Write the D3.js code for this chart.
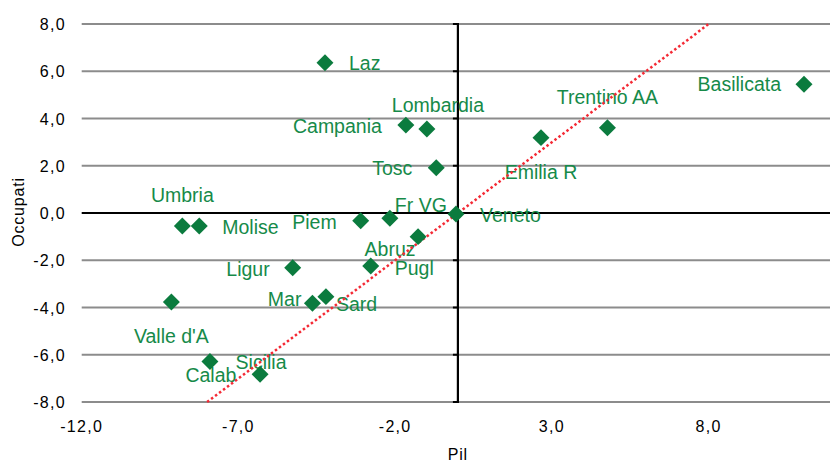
<!DOCTYPE html>
<html>
<head>
<meta charset="utf-8">
<script src="https://cdn.jsdelivr.net/npm/d3@7"></script>
<style>
  body { margin: 0; background: #fff; }
  svg { display: block; }
</style>
</head>
<body>
<script>
// regioni, Pil (x) e Occupati (y)
const regioni = ["Laz", "Lombardia", "Campania", "Tosc", "Emilia R", "Trentino AA", "Basilicata",
  "Fr VG", "Piem", "Veneto", "Umbria", "Molise", "Abruz", "Pugl", "Ligur", "Mar", "Sard",
  "Valle d'A", "Calab", "Sicilia"];
const pil = [-4.24, -0.99, -1.66, -0.69, 2.65, 4.77, 11.04,
  -2.17, -3.10, -0.06, -8.79, -8.25, -1.27, -2.78, -5.27, -4.64, -4.21,
  -9.14, -7.91, -6.31];
const occupati = [6.36, 3.56, 3.72, 1.92, 3.19, 3.61, 5.45,
  -0.22, -0.33, -0.04, -0.55, -0.55, -1.00, -2.24, -2.32, -3.82, -3.54,
  -3.77, -6.29, -6.83];
const xTicks = [-12, -7, -2, 3, 8];
const yTicks = [-8, -6, -4, -2, 0, 2, 4, 6, 8];
const trendSlope = 1.0, trendIntercept = 0.0;

// posizione etichette (anchor, dx, dy)
const labelPos = {
  "Laz": ["start", 24, 0], "Lombardia": ["start", -35, -24], "Campania": ["end", -24, 1],
  "Tosc": ["end", -24, 0], "Emilia R": ["middle", 0, 34], "Trentino AA": ["middle", 0, -31],
  "Basilicata": ["end", -23, 0], "Fr VG": ["start", 5, -13], "Piem": ["end", -24, 1],
  "Veneto": ["start", 24, 1], "Umbria": ["middle", 0, -31], "Molise": ["start", 23, 1],
  "Abruz": ["middle", -28, 12], "Pugl": ["start", 24, 2], "Ligur": ["end", -23, 1],
  "Mar": ["end", -11, -4], "Sard": ["start", 10, 7], "Valle d'A": ["middle", 0, 34],
  "Calab": ["middle", 1, 13], "Sicilia": ["middle", 1, -12]
};

const W = 830, H = 462;
const green = "#0b7b3e", greenText = "#168a49";

const svg = d3.select("body").append("svg")
  .attr("width", W)
  .attr("height", H);

const x = d3.scaleLinear().domain([-12, 13]).range([81.7, 81.7 + 25 * 31.35]);
const y = d3.scaleLinear().domain([-8, 8]).range([402, 24]);

const fmt = v => d3.format(".1f")(v).replace(".", ",").replace("\u2212", "-");

// griglia orizzontale
svg.append("g").selectAll("line")
  .data(yTicks.filter(d => d !== 0))
  .enter().append("line")
    .attr("x1", x(-12)).attr("x2", W)
    .attr("y1", d => y(d)).attr("y2", d => y(d))
    .attr("stroke", "#8c8c8c")
    .attr("stroke-width", 2);

// asse orizzontale a y=0
svg.append("line")
  .attr("x1", x(-12)).attr("x2", W)
  .attr("y1", y(0)).attr("y2", y(0))
  .attr("stroke", "#000")
  .attr("stroke-width", 2.2);

// asse verticale a x=0 con tacche
svg.append("line")
  .attr("x1", x(0)).attr("x2", x(0))
  .attr("y1", y(8) - 1).attr("y2", y(-8) + 1)
  .attr("stroke", "#000")
  .attr("stroke-width", 2.2);
svg.append("g").selectAll("line")
  .data(yTicks)
  .enter().append("line")
    .attr("x1", x(0) - 5).attr("x2", x(0))
    .attr("y1", d => y(d)).attr("y2", d => y(d))
    .attr("stroke", "#000")
    .attr("stroke-width", 2);

// etichette assi
svg.append("g").selectAll("text")
  .data(yTicks)
  .enter().append("text")
    .attr("x", 66)
    .attr("y", d => y(d) + 6)
    .attr("text-anchor", "end")
    .attr("font-family", "Liberation Sans, Arial, sans-serif")
    .attr("font-size", "16px")
    .attr("letter-spacing", "1.3px")
    .attr("fill", "#000")
    .text(fmt);

svg.append("g").selectAll("text")
  .data(xTicks)
  .enter().append("text")
    .attr("x", d => x(d))
    .attr("y", 432)
    .attr("text-anchor", "middle")
    .attr("font-family", "Liberation Sans, Arial, sans-serif")
    .attr("font-size", "16px")
    .attr("letter-spacing", "1.3px")
    .attr("fill", "#000")
    .text(fmt);

svg.append("text")
  .attr("x", x(0))
  .attr("y", 460)
  .attr("text-anchor", "middle")
  .attr("font-family", "Liberation Sans, Arial, sans-serif")
  .attr("font-size", "16px")
  .attr("letter-spacing", "0.8px")
  .text("Pil");

svg.append("text")
  .attr("text-anchor", "middle")
  .attr("font-family", "Liberation Sans, Arial, sans-serif")
  .attr("font-size", "16px")
  .attr("letter-spacing", "0.8px")
  .attr("transform", "translate(24,212) rotate(-90)")
  .text("Occupati");

const pts = regioni.map((n, i) => ({ name: n, x: pil[i], y: occupati[i] }));

// etichette dei punti
svg.append("g").selectAll("text")
  .data(pts)
  .enter().append("text")
    .attr("x", d => x(d.x) + labelPos[d.name][1])
    .attr("y", d => y(d.y) + labelPos[d.name][2] + 7)
    .attr("text-anchor", d => labelPos[d.name][0])
    .attr("font-family", "Liberation Sans, Arial, sans-serif")
    .attr("font-size", "19.5px")
    .attr("fill", greenText)
    .text(d => d.name);

// linea di tendenza
const tx0 = (-8 - trendIntercept) / trendSlope, tx1 = (8 - trendIntercept) / trendSlope;
svg.append("line")
  .attr("x1", x(tx0)).attr("y1", y(trendSlope * tx0 + trendIntercept))
  .attr("x2", x(tx1)).attr("y2", y(trendSlope * tx1 + trendIntercept))
  .attr("stroke", "#f42a35")
  .attr("stroke-width", 2.5)
  .attr("stroke-dasharray", "2.5,2.5");

// punti (rombi)
svg.append("g").selectAll("rect")
  .data(pts)
  .enter().append("rect")
    .attr("x", -6).attr("y", -6)
    .attr("width", 12).attr("height", 12)
    .attr("fill", green)
    .attr("transform", d => `translate(${x(d.x)},${y(d.y)}) rotate(45)`);
</script>
</body>
</html>
